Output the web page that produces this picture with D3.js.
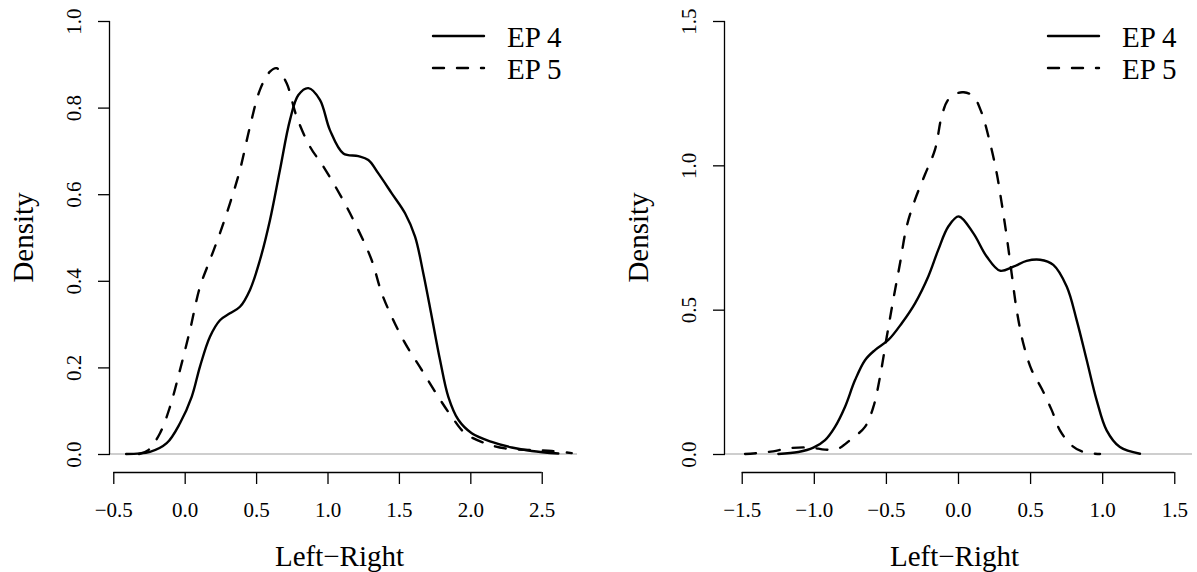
<!DOCTYPE html>
<html>
<head>
<meta charset="utf-8">
<script src="https://cdn.jsdelivr.net/npm/d3@7"></script>
<style>
  body { margin: 0; background: #fff; }
  svg { display: block; }
  svg text { font-family: "Liberation Serif", "Times New Roman", Times, "DejaVu Serif", serif !important; fill: #000; }
  .tick-text { font-size: 21px; }
  .title-text { font-size: 29px; }
</style>
</head>
<body>
<div id="chart"></div>
<script>
// density estimates: [Left-Right, Density]
var ep4Left = [[-0.41,0],[-0.243,0.005],[-0.126,0.025],[-0.033,0.071],[0.049,0.132],[0.107,0.202],
  [0.177,0.271],[0.247,0.309],[0.317,0.325],[0.387,0.340],[0.457,0.379],[0.527,0.448],[0.597,0.540],
  [0.667,0.656],[0.737,0.771],[0.796,0.829],[0.866,0.845],[0.947,0.818],[1.017,0.748],[1.111,0.694],
  [1.216,0.688],[1.286,0.679],[1.356,0.648],[1.450,0.602],[1.543,0.556],[1.613,0.502],[1.671,0.417],
  [1.730,0.317],[1.788,0.217],[1.846,0.132],[1.916,0.079],[2.010,0.048],[2.150,0.028],[2.290,0.015],
  [2.430,0.007],[2.616,0.001]];
var ep5Left = [[-0.32,0],[-0.255,0.009],[-0.173,0.048],[-0.103,0.109],[-0.033,0.194],[0.037,0.286],
  [0.107,0.386],[0.177,0.448],[0.247,0.510],[0.317,0.579],[0.387,0.656],[0.457,0.756],[0.527,0.841],
  [0.597,0.883],[0.644,0.891],[0.714,0.856],[0.784,0.779],[0.877,0.710],[0.971,0.664],[1.111,0.585],
  [1.216,0.517],[1.309,0.448],[1.380,0.371],[1.450,0.317],[1.543,0.256],[1.660,0.194],[1.776,0.132],
  [1.870,0.086],[1.963,0.048],[2.103,0.025],[2.243,0.013],[2.430,0.009],[2.570,0.007],[2.710,0.002]];
var ep4Right = [[-1.246,0],[-1.107,0.007],[-1.003,0.022],[-0.922,0.048],[-0.853,0.094],[-0.784,0.163],
  [-0.714,0.256],[-0.645,0.325],[-0.576,0.360],[-0.483,0.395],[-0.390,0.453],[-0.298,0.522],
  [-0.206,0.615],[-0.137,0.707],[-0.067,0.788],[0.005,0.823],[0.106,0.765],[0.199,0.684],[0.291,0.635],
  [0.384,0.649],[0.476,0.669],[0.569,0.673],[0.661,0.655],[0.754,0.580],[0.823,0.464],[0.893,0.325],
  [0.962,0.186],[1.031,0.082],[1.123,0.024],[1.262,0.001]];
var ep5Right = [[-1.477,0],[-1.315,0.007],[-1.153,0.021],[-1.015,0.022],[-0.922,0.015],[-0.830,0.019],
  [-0.737,0.053],[-0.645,0.094],[-0.587,0.163],[-0.541,0.267],[-0.494,0.406],[-0.449,0.534],
  [-0.402,0.661],[-0.356,0.788],[-0.298,0.881],[-0.229,0.968],[-0.159,1.055],[-0.113,1.170],
  [-0.067,1.228],[0.002,1.251],[0.040,1.253],[0.106,1.240],[0.164,1.182],[0.222,1.078],[0.268,0.974],
  [0.303,0.869],[0.338,0.753],[0.372,0.626],[0.407,0.499],[0.453,0.383],[0.511,0.291],[0.580,0.227],
  [0.650,0.152],[0.707,0.082],[0.788,0.030],[0.869,0.007],[0.985,0]];

var leftXTicks = [-0.5, 0, 0.5, 1, 1.5, 2, 2.5];
var leftYTicks = [0, 0.2, 0.4, 0.6, 0.8, 1.0];
var rightXTicks = [-1.5, -1, -0.5, 0, 0.5, 1, 1.5];
var rightYTicks = [0, 0.5, 1.0, 1.5];
var legendLabels = ["EP 4", "EP 5"];
var xTitle = "Left\u2212Right";
var yTitle = "Density";

var width = 1197, height = 572;
var plotTop = 21, plotBottom = 454, plotW = 467;
var axisGap = 18; // x axis sits below the plot region
var serif = "'Liberation Serif', 'Times New Roman', Times, 'DejaVu Serif', serif";

var svg = d3.select("#chart").append("svg")
  .attr("width", width)
  .attr("height", height)
  .attr("font-family", serif);

var fmt = d3.format(".1f");

function drawPanel(left, xDomain, yMax, xTicks, yTicks, series) {
  var x = d3.scaleLinear().domain(xDomain).range([left, left + plotW]);
  var y = d3.scaleLinear().domain([0, yMax]).range([plotBottom, plotTop]);
  var g = svg.append("g");

  // grey zero line across the plot region
  g.append("line")
    .attr("x1", left).attr("x2", left + plotW)
    .attr("y1", y(0)).attr("y2", y(0))
    .style("stroke", "#bebebe").style("stroke-width", 1.3);

  // x axis
  var xAxis = d3.axisBottom(x).tickValues(xTicks).tickFormat(fmt).tickSize(12).tickPadding(0);
  var gx = g.append("g")
    .attr("transform", "translate(0," + (plotBottom + axisGap) + ")")
    .call(xAxis)
    .attr("font-family", serif);
  gx.select(".domain").attr("d", "M" + x(xTicks[0]) + ",0.5H" + x(xTicks[xTicks.length - 1]))
    .style("stroke", "#000").style("stroke-width", 1.3);
  gx.selectAll(".tick line").style("stroke", "#000").style("stroke-width", 1.3);
  gx.selectAll(".tick text")
    .attr("class", "tick-text")
    .attr("y", 45).attr("dy", 0);

  // y axis
  var yAxis = d3.axisLeft(y).tickValues(yTicks).tickFormat(fmt).tickSize(12).tickPadding(0);
  var gy = g.append("g")
    .attr("transform", "translate(" + left + ",0)")
    .call(yAxis)
    .attr("font-family", serif);
  gy.select(".domain").attr("d", "M-0.5," + y(0) + "V" + y(yTicks[yTicks.length - 1]))
    .style("stroke", "#000").style("stroke-width", 1.3);
  gy.selectAll(".tick line").style("stroke", "#000").style("stroke-width", 1.3);
  gy.selectAll(".tick text")
    .attr("class", "tick-text")
    .attr("x", 0).attr("dy", 0)
    .attr("transform", "translate(-29,0) rotate(-90)")
    .attr("text-anchor", "middle");

  // titles
  g.append("text")
    .attr("class", "title-text")
    .attr("x", left + plotW / 2 - 4)
    .attr("y", 566)
    .attr("text-anchor", "middle")
    .text(xTitle);
  g.append("text")
    .attr("class", "title-text")
    .attr("transform", "translate(" + (left - 77) + "," + ((plotTop + plotBottom) / 2) + ") rotate(-90)")
    .attr("text-anchor", "middle")
    .text(yTitle);

  // density curves
  var line = d3.line()
    .x(function(d){ return x(d[0]); })
    .y(function(d){ return y(d[1]); })
    .curve(d3.curveCatmullRom.alpha(0.5));

  series.forEach(function(s, i){
    g.append("path")
      .attr("d", line(s))
      .style("fill", "none")
      .style("stroke", "#000")
      .style("stroke-width", 2.4)
      .style("stroke-linecap", "round")
      .style("stroke-dasharray", i === 1 ? "11,13" : null);
  });

  // legend
  var lg = g.append("g").attr("transform", "translate(" + (left + plotW) + ",0)");
  legendLabels.forEach(function(lab, i){
    var ly = 36 + i * 32;
    lg.append("line")
      .attr("x1", -144).attr("x2", -93)
      .attr("y1", ly).attr("y2", ly)
      .style("stroke", "#000")
      .style("stroke-width", 2.4)
      .style("stroke-linecap", "round")
      .style("stroke-dasharray", i === 1 ? "11,13" : null);
    lg.append("text")
      .attr("class", "title-text")
      .attr("x", -70)
      .attr("y", ly + 11)
      .text(lab);
  });
}

drawPanel(110, [-0.523, 2.747], 1.0, leftXTicks, leftYTicks, [ep4Left, ep5Left]);
drawPanel(725, [-1.616, 1.623], 1.5, rightXTicks, rightYTicks, [ep4Right, ep5Right]);
</script>
</body>
</html>
